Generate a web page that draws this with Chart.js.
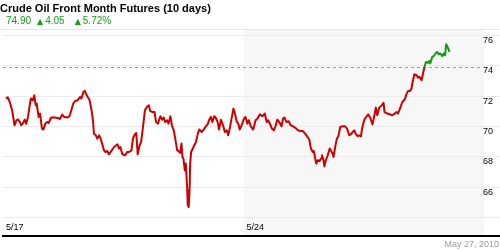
<!DOCTYPE html>
<html>
<head>
<meta charset="utf-8">
<script src="https://cdn.jsdelivr.net/npm/chart.js@4.4.1/dist/chart.umd.min.js"></script>
<style>
  body { margin: 0; background: #fff; }
  #wrap { position: relative; width: 500px; height: 250px; font-family: "Liberation Sans", Arial, sans-serif; }
  #chart { position: absolute; left: 0; top: 0; }
  #title { position: absolute; left: 0; top: 2px; font-size: 11px; line-height: 13px; font-weight: bold; color: #000; white-space: nowrap; }
  #quote { position: absolute; left: 6px; top: 15px; font-size: 10px; line-height: 11px; color: #1a9a1a; white-space: nowrap; }
  #quote .up { font-family: "DejaVu Sans", sans-serif; font-size: 8px; margin: 0 2px 0 6px; }
  #quote .up.second { margin-left: 10px; }
  #date { position: absolute; right: 1px; top: 239px; font-size: 9px; line-height: 10px; color: #999; }
</style>
</head>
<body>
<div id="wrap">
  <canvas id="chart" width="500" height="250"></canvas>
  <div id="title">Crude Oil Front Month Futures (10 days)</div>
  <div id="quote">74.90<span class="up">▲</span>4.05<span class="up second">▲</span>5.72%</div>
  <div id="date">May 27, 2010</div>
</div>
<script>
// time in trading days from 5/17 open, price in $/bbl
const days = [
  0.06,0.10,0.14,0.17,0.19,0.24,0.28,0.31,0.35,0.38,
  0.41,0.45,0.48,0.52,0.55,0.58,0.62,0.65,0.68,0.70,
  0.74,0.77,0.81,0.84,0.88,0.92,0.95,1.00,1.07,1.14,
  1.18,1.23,1.27,1.34,1.38,1.41,1.46,1.50,1.55,1.60,
  1.63,1.67,1.70,1.74,1.78,1.80,1.84,1.87,1.89,1.93,
  1.96,2.00,2.03,2.07,2.10,2.13,2.17,2.20,2.26,2.31,
  2.38,2.41,2.44,2.48,2.54,2.58,
  2.62,2.67,2.70,2.74,2.77,2.80,2.84,2.87,2.91,2.95,
  3.00,3.03,3.06,3.11,3.15,3.18,3.22,3.27,3.31,3.34,
  3.37,3.41,3.44,3.48,3.51,3.55,3.58,3.62,3.65,3.68,
  3.71,3.73,3.75,3.78,3.80,3.83,3.84,3.86,3.88,3.89,
  3.91,3.96,4.01,4.05,4.08,4.13,4.17,4.21,4.26,4.28,
  4.32,4.35,4.39,4.42,4.46,4.49,4.53,4.58,4.61,4.65,
  4.68,4.72,4.75,4.79,4.82,4.86,4.89,4.92,4.96,
  5.01,5.04,5.08,5.11,5.15,5.20,5.25,5.29,5.34,5.39,
  5.44,5.48,5.51,5.54,5.59,5.63,5.67,5.70,5.74,5.79,
  5.82,5.85,5.89,5.94,5.98,6.03,6.07,6.13,6.18,6.23,
  6.28,6.34,6.37,6.40,6.44,6.46,6.49,6.51,6.54,6.58,
  6.61,6.63,6.66,6.68,6.71,6.75,6.79,6.82,6.85,6.87,
  6.91,6.94,6.97,7.01,7.06,7.11,7.15,7.20,7.23,7.27,
  7.30,7.33,7.37,7.40,7.44,
  7.47,7.51,7.54,7.59,7.63,7.68,7.71,7.75,7.78,7.82,
  7.87,7.91,7.93,7.99,8.04,8.09,8.14,8.18,8.21,8.25,
  8.30,8.35,8.39,8.42,8.46,8.49,8.51,8.55,8.60,8.62,
  8.66,8.70,8.73,8.76,8.79,8.83,8.86,8.88,8.92,8.95,
  8.99,9.02,9.06,9.09,9.13,9.16,9.19,9.21,9.24,9.28
];
const prices = [
  71.84,71.92,71.61,71.28,71.07,70.08,70.41,70.47,70.30,70.08,
  70.19,70.45,70.19,70.63,71.28,71.84,71.72,72.05,71.39,71.51,
  70.63,70.85,69.86,69.80,70.19,70.30,70.23,70.59,70.59,70.56,
  70.49,70.78,70.63,70.59,70.67,70.95,71.51,71.68,71.72,71.94,
  71.84,72.27,72.34,72.05,71.84,71.72,71.07,70.41,69.53,69.42,
  69.20,69.42,69.20,68.76,68.43,68.32,68.39,68.17,68.43,68.65,
  68.83,68.55,68.65,68.17,68.11,68.32,
  68.32,68.43,69.20,69.49,69.57,68.17,68.76,68.98,69.97,71.07,
  71.33,71.39,71.02,70.95,70.95,70.30,70.19,70.67,70.45,70.59,
  70.30,70.41,70.19,70.67,70.08,69.75,69.20,68.43,68.39,68.26,
  68.88,67.99,67.89,67.12,67.56,65.80,64.82,64.70,66.02,67.56,
  68.32,68.65,68.98,69.53,69.80,69.64,69.80,69.97,70.19,70.41,
  70.63,70.30,70.67,70.59,70.30,69.80,70.45,70.01,69.64,69.75,
  69.42,69.97,70.52,71.18,70.85,70.30,70.19,69.80,70.08,
  70.52,70.63,70.19,70.41,70.01,69.80,70.41,70.52,70.80,70.67,
  70.85,70.30,70.41,70.23,69.86,69.75,70.08,70.45,70.30,70.01,
  70.52,70.59,70.30,70.34,70.08,70.01,69.93,69.75,69.70,69.70,
  69.53,69.27,69.09,68.55,68.32,68.39,67.89,67.56,67.78,67.73,
  67.89,68.11,67.82,67.38,67.78,68.11,68.55,68.39,68.22,67.99,
  68.76,69.20,69.36,69.97,70.01,70.01,69.86,69.42,69.49,69.64,
  69.75,69.53,69.36,69.42,69.36,
  69.97,70.45,70.59,70.80,70.59,70.14,70.59,71.24,70.74,71.24,
  71.39,71.55,70.95,70.85,70.80,70.74,70.85,70.95,70.85,71.18,
  71.61,71.77,72.16,72.34,72.34,72.49,72.86,73.43,73.37,73.22,
  73.26,73.04,73.48,73.91,74.24,74.18,74.31,74.14,74.57,74.62,
  74.80,74.90,74.75,74.80,74.62,74.80,74.68,75.41,75.23,74.90
];

const xTickDays = [0, 5];
const xTickLabels = ["5/17", "5/24"];
const yTicks = [64, 66, 68, 70, 72, 74, 76];
const refLevel = 73.9;       // dashed reference line
const weekStart = 5, weekEnd = 10; // shaded current week
const xMax = 10.33, yMin = 62.8, yMax = 76.41;

const red = "#cc0000", green = "#119911";

Chart.defaults.font.family = "'Liberation Sans', Arial, sans-serif";

const backdrop = {
  id: "backdrop",
  beforeDraw(chart) {
    const { ctx, chartArea: a, scales: { x } } = chart;
    ctx.save();
    ctx.fillStyle = "#f7f7f7";
    const x0 = x.getPixelForValue(weekStart), x1 = x.getPixelForValue(weekEnd);
    ctx.fillRect(x0, a.top, x1 - x0, a.bottom - a.top);
    ctx.strokeStyle = "#e6e6e6";
    ctx.lineWidth = 1;
    ctx.beginPath();
    ctx.moveTo(0, a.top + 0.5);
    ctx.lineTo(chart.width, a.top + 0.5);
    ctx.stroke();
    ctx.restore();
  },
  beforeDatasetsDraw(chart) {
    const { ctx, scales: { x, y } } = chart;
    const yy = Math.round(y.getPixelForValue(refLevel)) + 0.5;
    ctx.save();
    ctx.strokeStyle = "#999";
    ctx.lineWidth = 1;
    ctx.setLineDash([3, 3]);
    ctx.beginPath();
    ctx.moveTo(x.getPixelForValue(0), yy);
    ctx.lineTo(x.getPixelForValue(weekEnd), yy);
    ctx.stroke();
    ctx.restore();
  }
};

new Chart(document.getElementById("chart"), {
  type: "line",
  data: {
    datasets: [{
      data: days.map((d, i) => ({ x: d, y: prices[i] })),
      borderColor: red,
      borderWidth: 2,
      borderJoinStyle: "round",
      pointRadius: 0,
      tension: 0,
      segment: {
        borderColor: c => (c.p0.parsed.y >= refLevel ? green : red)
      }
    }]
  },
  options: {
    responsive: false,
    animation: false,
    devicePixelRatio: 1,
    layout: { padding: { top: 29, bottom: 14, left: 0, right: 0 } },
    plugins: { legend: { display: false }, tooltip: { enabled: false } },
    scales: {
      x: {
        type: "linear",
        min: 0,
        max: xMax,
        grid: { display: false, drawTicks: false },
        border: { display: true, color: "#000", width: 2 },
        afterBuildTicks: s => { s.ticks = xTickDays.map(v => ({ value: v })); },
        afterFit: s => { s.height = 0; },
        ticks: {
          mirror: true,
          align: "start",
          padding: 3,
          labelOffset: 3,
          maxRotation: 0,
          autoSkip: false,
          color: "#000",
          font: { size: 9 },
          callback: (v, i) => xTickLabels[i]
        }
      },
      y: {
        position: "right",
        min: yMin,
        max: yMax,
        grid: { color: "#ececec", drawTicks: false },
        border: { display: false },
        afterBuildTicks: s => { s.ticks = yTicks.map(v => ({ value: v })); },
        afterFit: s => { s.width = 0; },
        ticks: {
          mirror: true,
          padding: -7,
          labelOffset: 5,
          color: "#000",
          font: { size: 9 },
          callback: v => (v < 65 ? "" : String(v))
        }
      }
    }
  },
  plugins: [backdrop]
});
</script>
</body>
</html>
